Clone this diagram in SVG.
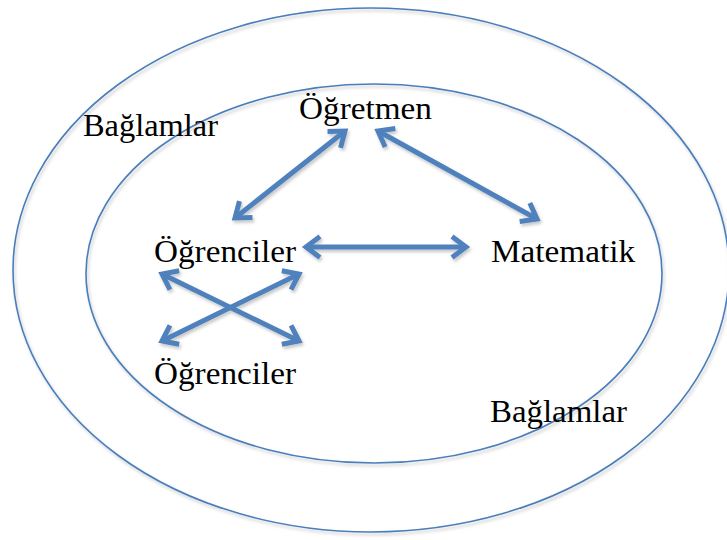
<svg xmlns="http://www.w3.org/2000/svg" width="727" height="540" viewBox="0 0 727 540">
  <style>
    .ring { fill: none; stroke: #4A7EBB; stroke-width: 1.6; }
    .label { font-family: "Liberation Serif", "Times New Roman", serif; font-size: 32px; fill: #000; }
    .link { fill: none; stroke: #4F81BD; stroke-width: 5; marker-start: url(#head); marker-end: url(#head); }
  </style>
  <defs>
    <filter id="soft" x="-20%" y="-20%" width="140%" height="140%">
      <feDropShadow dx="1.5" dy="2.5" stdDeviation="1.5" flood-color="#000" flood-opacity="0.22"/>
    </filter>
    <marker id="head" markerUnits="userSpaceOnUse" markerWidth="40" markerHeight="40" viewBox="-25 -20 40 40" refX="0" refY="0" orient="auto-start-reverse" overflow="visible">
      <path d="M-14,-10.5 L0,0 L-14,10.5" fill="none" stroke="#4F81BD" stroke-width="5" stroke-linejoin="miter"/>
    </marker>
  </defs>

  <!-- context rings -->
  <g id="outer-context" filter="url(#soft)">
    <ellipse class="ring" cx="371" cy="270" rx="358" ry="262"/>
  </g>
  <g id="inner-context" filter="url(#soft)">
    <ellipse class="ring" cx="374" cy="273.5" rx="288" ry="189.5"/>
  </g>

  <!-- connectors -->
  <g id="connectors" filter="url(#soft)">
    <line class="link" x1="345" y1="131" x2="235" y2="218"/>
    <line class="link" x1="378" y1="131" x2="537" y2="219"/>
    <line class="link" x1="306" y1="247" x2="466" y2="247"/>
    <line class="link" x1="162" y1="274" x2="299" y2="341"/>
    <line class="link" x1="162" y1="341" x2="299" y2="274"/>
  </g>

  <!-- nodes -->
  <g id="node-ogretmen">
    <text class="label" x="299" y="119" textLength="133" lengthAdjust="spacingAndGlyphs">Öğretmen</text>
  </g>
  <g id="node-ogrenciler-top">
    <text class="label" x="154" y="262" textLength="142" lengthAdjust="spacingAndGlyphs">Öğrenciler</text>
  </g>
  <g id="node-matematik">
    <text class="label" x="491" y="262" textLength="144" lengthAdjust="spacingAndGlyphs">Matematik</text>
  </g>
  <g id="node-ogrenciler-bottom">
    <text class="label" x="154" y="384" textLength="142" lengthAdjust="spacingAndGlyphs">Öğrenciler</text>
  </g>
  <g id="label-baglamlar-outer">
    <text class="label" x="83" y="136" textLength="135" lengthAdjust="spacingAndGlyphs">Bağlamlar</text>
  </g>
  <g id="label-baglamlar-inner">
    <text class="label" x="490" y="422" textLength="137" lengthAdjust="spacingAndGlyphs">Bağlamlar</text>
  </g>
</svg>
